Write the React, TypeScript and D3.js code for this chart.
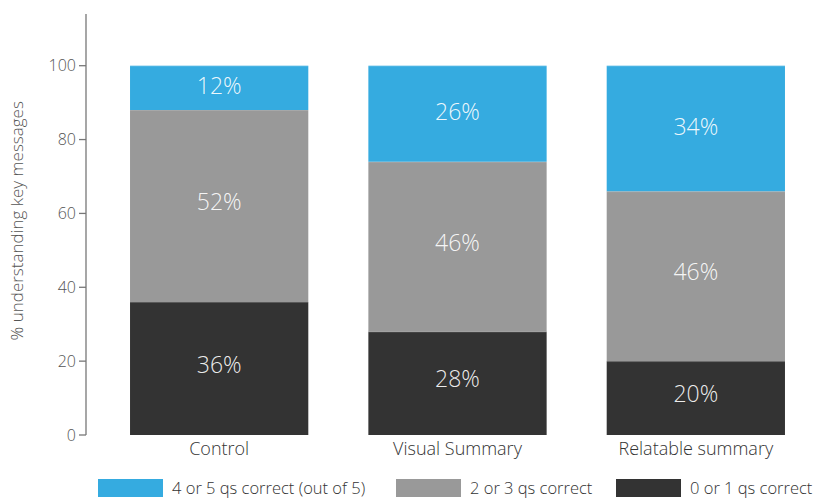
import React from "react";
import * as d3 from "d3";

const categories = ["Control", "Visual Summary", "Relatable summary"];
const seriesNames = ["0 or 1 qs correct", "2 or 3 qs correct", "4 or 5 qs correct (out of 5)"];
const low = [36, 28, 20];
const mid = [52, 46, 46];
const high = [12, 26, 34];
const yTicks = [0, 20, 40, 60, 80, 100];
const colors = ["#333333", "#999999", "#35abe0"];
const legendOrder = [2, 1, 0];

const W = 815, H = 498;
const FONT = "'Open Sans', 'DejaVu Sans', sans-serif";

export default function App() {
  const x = d3.scaleBand<string>().domain(categories).range([100, 815]).paddingInner(0.252).paddingOuter(0.126);
  const y = d3.scaleLinear().domain([0, 114]).range([435, 14]);
  const rows = categories.map((c, i) => ({ cat: c, s0: low[i], s1: mid[i], s2: high[i] }));
  const stacked = d3.stack<any>().keys(["s0", "s1", "s2"])(rows);
  const legendX = [98, 396, 616];
  return (
    <svg width={W} height={H} style={{ position: "absolute", left: 0, top: 0, fontFamily: FONT }}>
      <line x1={86} x2={86} y1={y(114)} y2={y(0)} stroke="#777" strokeWidth={1.3} />
      {yTicks.map(t => (
        <g key={t}>
          <line x1={79} x2={86} y1={y(t)} y2={y(t)} stroke="#777" strokeWidth={1.3} />
          <text x={76} y={y(t)} dy="0.35em" textAnchor="end" fontSize={16} fill="#555" fontWeight={300}>{t}</text>
        </g>
      ))}
      <text transform={`translate(23,${y(58)}) rotate(-90)`} textAnchor="middle" fontSize={17} fill="#555" fontWeight={300}>% understanding key messages</text>
      {stacked.map((layer, li) => (
        <g key={li}>
          {layer.map((d, i) => {
            const x0 = x(categories[i])!;
            const top = y(d[1]), bot = y(d[0]);
            const v = d[1] - d[0];
            return (
              <g key={i}>
                <rect x={x0} y={top} width={x.bandwidth()} height={bot - top} fill={colors[li]} />
                <line x1={x0} x2={x0 + x.bandwidth()} y1={top + 0.5} y2={top + 0.5} stroke="#fff" strokeOpacity={0.15} />
                <text x={x0 + x.bandwidth() / 2} y={(top + bot) / 2 - (li === 2 ? 2 : 4)} dy="0.35em" textAnchor="middle" fontSize={23} fill="#fff" fillOpacity={0.92} fontWeight={300}>{`${v}%`}</text>
              </g>
            );
          })}
        </g>
      ))}
      {categories.map(c => (
        <text key={c} x={x(c)! + x.bandwidth() / 2} y={449} dy="0.35em" textAnchor="middle" fontSize={18} fill="#333" fontWeight={300}>{c}</text>
      ))}
      {legendOrder.map((si, k) => (
        <g key={si}>
          <rect x={legendX[k]} y={479} width={65} height={18} fill={colors[si]} />
          <text x={legendX[k] + 74} y={488} dy="0.35em" fontSize={16.5} fill="#333" fontWeight={300}>{seriesNames[si]}</text>
        </g>
      ))}
    </svg>
  );
}
